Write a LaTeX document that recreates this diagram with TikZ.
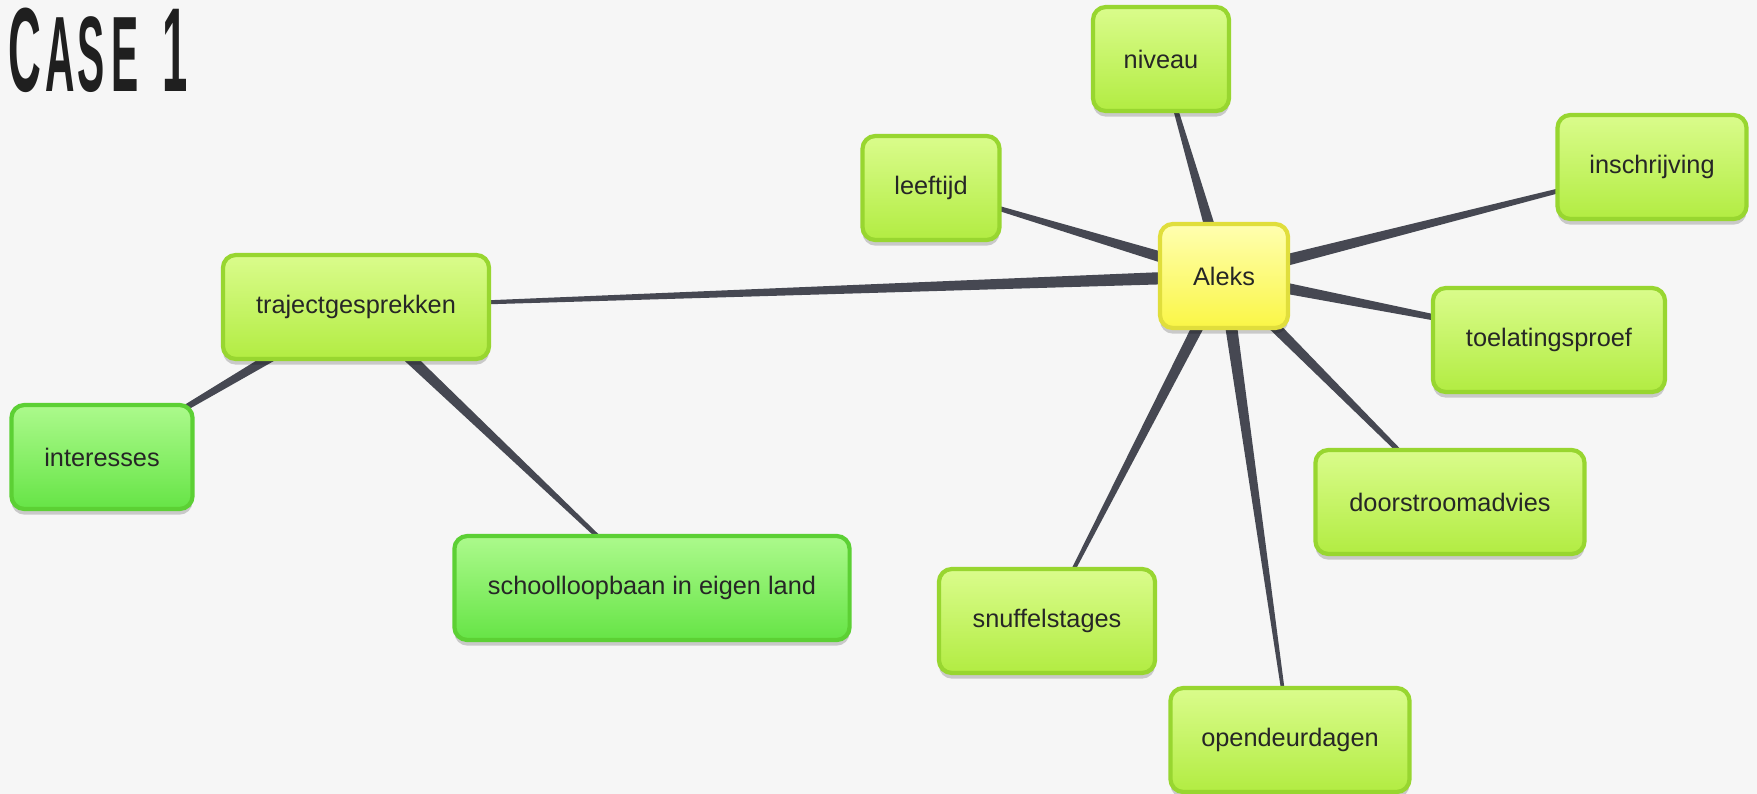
\documentclass[tikz,border=0pt]{standalone}
\usepackage{fontspec}
\setmainfont{Liberation Sans}
\usetikzlibrary{calc,shadows,backgrounds}

\definecolor{paper}{RGB}{246,246,246}
\definecolor{linkgray}{RGB}{70,72,82}
\definecolor{limetop}{RGB}{218,252,140}
\definecolor{limebot}{RGB}{178,236,66}
\definecolor{limeedge}{RGB}{152,214,48}
\definecolor{greentop}{RGB}{172,250,140}
\definecolor{greenbot}{RGB}{102,228,70}
\definecolor{greenedge}{RGB}{92,208,52}
\definecolor{hubtop}{RGB}{255,255,176}
\definecolor{hubbot}{RGB}{250,246,70}
\definecolor{hubedge}{RGB}{224,222,60}

\tikzset{
  box/.style={rounded corners=0.13cm, line width=1.2pt, minimum height=1.04cm,
    text=black!85, font=\fontsize{7.2}{8.6}\selectfont,
    drop shadow={shadow xshift=0pt, shadow yshift=-1.6pt, opacity=0.18, fill=black}},
  limebox/.style={box, draw=limeedge, top color=limetop, bottom color=limebot},
  greenbox/.style={box, draw=greenedge, top color=greentop, bottom color=greenbot},
  hubbox/.style={box, draw=hubedge, top color=hubtop, bottom color=hubbot},
  link/.style={fill=linkgray},
}

\begin{document}
\begin{tikzpicture}[x=0.01cm, y=-0.01cm]
  \useasboundingbox (0, 0) rectangle (1757, 794);

  % Title
  \node [anchor=west, text=black!88, inner sep=0pt] (title) at (8, 50)
    {\scalebox{0.38}[1]{\bfseries\fontsize{34}{34}\selectfont C\hspace{3pt}%
      \fontsize{30.5}{30.5}\selectfont A\hspace{2pt}S\hspace{5pt}E\hspace{18pt}%
      \fontsize{34}{34}\selectfont 1}};

  % Centre
  \node [hubbox, minimum width=1.28cm] (aleks) at (1224, 276) {Aleks};

  % Around Aleks
  \node [limebox, minimum width=1.36cm] (niveau) at (1161, 59) {niveau};
  \node [limebox, minimum width=1.37cm] (leeftijd) at (931, 188) {leeftijd};
  \node [limebox, minimum width=1.89cm] (inschrijving) at (1652, 167) {inschrijving};
  \node [limebox, minimum width=2.32cm] (toelating) at (1549, 340) {toelatingsproef};
  \node [limebox, minimum width=2.69cm] (doorstroom) at (1450, 502) {doorstroomadvies};
  \node [limebox, minimum width=2.16cm] (snuffel) at (1047, 621) {snuffelstages};
  \node [limebox, minimum width=2.39cm] (opendeur) at (1290, 740) {opendeurdagen};

  % Left branch
  \node [limebox, minimum width=2.66cm] (traject) at (356, 307) {trajectgesprekken};
  \node [greenbox, minimum width=1.81cm] (interesses) at (102, 457) {interesses};
  \node [greenbox, minimum width=3.95cm] (school) at (652, 588) {schoolloopbaan in eigen land};

  % Links (wide at the parent, thin at the child)
  \begin{scope}[on background layer]
    \fill [paper] (0, 0) rectangle (1757, 794);
    \foreach \p/\c in {aleks/niveau, aleks/leeftijd, aleks/inschrijving,
        aleks/toelating, aleks/doorstroom, aleks/opendeur, aleks/snuffel,
        aleks/traject, traject/interesses, traject/school}
      \fill [link] ($(\p)!0.065cm!90:(\c)$) -- ($(\p)!0.065cm!-90:(\c)$)
        -- ($(\c)!0.012cm!90:(\p)$) -- ($(\c)!0.012cm!-90:(\p)$) -- cycle;
  \end{scope}
\end{tikzpicture}
\end{document}
